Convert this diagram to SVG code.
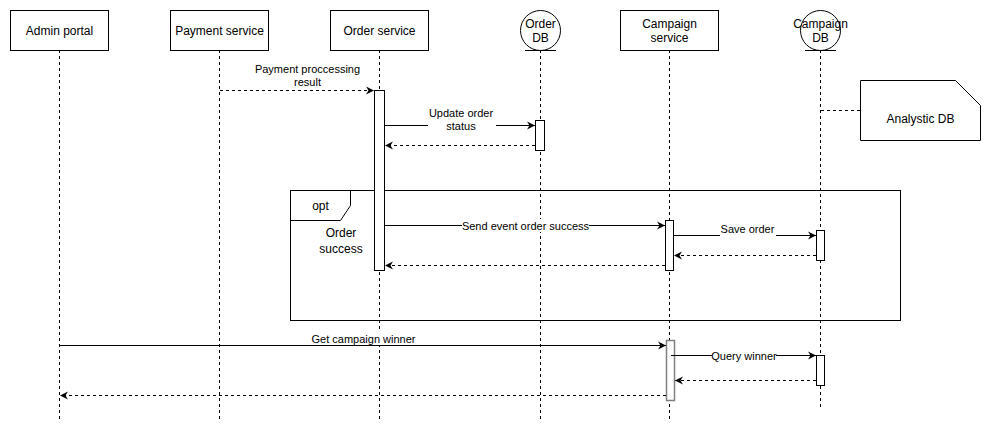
<svg xmlns="http://www.w3.org/2000/svg" width="991" height="431" viewBox="0 0 991 431">
<style>
text{font-family:"Liberation Sans",Arial,sans-serif;fill:#000;text-anchor:middle;dominant-baseline:central}
.h{font-size:12px}
.l{font-size:11px}
.box{fill:#fff;stroke:#000;stroke-width:1}
.life{stroke:#000;stroke-width:1;stroke-dasharray:3 3;fill:none}
.act{fill:#fff;stroke:#000;stroke-width:1}
.msg{stroke:#000;stroke-width:1;fill:none;marker-end:url(#arr)}
.ret{stroke:#000;stroke-width:1;fill:none;stroke-dasharray:3 3;marker-end:url(#arr)}
.bg{fill:#fff;stroke:none}
</style>
<defs>
<marker id="arr" markerUnits="userSpaceOnUse" markerWidth="9" markerHeight="9" refX="8" refY="4" orient="auto" overflow="visible">
<path d="M0,0 L8,4 L0,8 L2.5,4 Z" fill="#000" stroke="none"/>
</marker>
</defs>
<rect width="991" height="431" fill="#fff"/>

<g id="frame-opt">
<rect x="290.5" y="190.5" width="610" height="130" fill="none" stroke="#000"/>
<path d="M290.5,220.5 H340.5 L350.5,205.5 V190.5" fill="none" stroke="#000"/>
<text class="h" x="320.5" y="206">opt</text>
<text class="h" x="341" y="233">Order</text>
<text class="h" x="341" y="249">success</text>
</g>

<g id="admin-portal">
<line class="life" x1="59.5" y1="50" x2="59.5" y2="420"/>
<rect class="box" x="10.5" y="10.5" width="98" height="40"/>
<text class="h" x="59.5" y="31">Admin portal</text>
</g>

<g id="payment-service">
<line class="life" x1="219.5" y1="50" x2="219.5" y2="420"/>
<rect class="box" x="170.5" y="10.5" width="98" height="40"/>
<text class="h" x="219.5" y="31">Payment service</text>
</g>

<g id="order-service">
<line class="life" x1="379.5" y1="50" x2="379.5" y2="420"/>
<rect class="box" x="330.5" y="10.5" width="98" height="40"/>
<text class="h" x="379.5" y="31">Order service</text>
<rect class="act" x="374.5" y="90.5" width="10" height="180"/>
</g>

<g id="order-db">
<line class="life" x1="540.5" y1="50" x2="540.5" y2="420"/>
<circle cx="540.5" cy="30.5" r="20" fill="#fff" stroke="#000"/>
<line x1="525" y1="50.5" x2="556" y2="50.5" stroke="#000"/>
<text class="h" x="540.5" y="24">Order</text>
<text class="h" x="540.5" y="38">DB</text>
<rect class="act" x="535.5" y="120.5" width="9" height="30"/>
</g>

<g id="campaign-service">
<line class="life" x1="669.5" y1="50" x2="669.5" y2="420"/>
<rect class="box" x="620.5" y="10.5" width="98" height="40"/>
<text class="h" x="669.5" y="24">Campaign</text>
<text class="h" x="669.5" y="38">service</text>
<rect class="act" x="665.5" y="220.5" width="8" height="50"/>
<rect x="666.5" y="340.5" width="8" height="60" fill="#fff" stroke="#808080" stroke-width="1.5"/>
</g>

<g id="campaign-db">
<line class="life" x1="820.5" y1="50" x2="820.5" y2="408"/>
<circle cx="820.5" cy="30.5" r="20" fill="#fff" stroke="#000"/>
<line x1="805" y1="50.5" x2="836" y2="50.5" stroke="#000"/>
<text class="h" x="820.5" y="24">Campaign</text>
<text class="h" x="820.5" y="38">DB</text>
<rect class="act" x="816.5" y="230.5" width="8" height="30"/>
<rect class="act" x="816.5" y="355.5" width="8" height="30"/>
</g>

<g id="analystic-db">
<path d="M860.5,80.5 H955.5 L980.5,105.5 V140.5 H860.5 Z" fill="#fff" stroke="#000"/>
<text class="h" x="920.5" y="119">Analystic DB</text>
</g>

<g id="connectors">
<line x1="821" y1="110.5" x2="860" y2="110.5" class="life"/>

<line class="ret" x1="220" y1="90.5" x2="374" y2="90.5"/>
<text class="l" x="307.5" y="69">Payment proccessing</text>
<text class="l" x="307.5" y="82">result</text>

<line class="msg" x1="385" y1="125.5" x2="535" y2="125.5"/>
<rect class="bg" x="428" y="107" width="68" height="26"/>
<text class="l" x="461" y="113">Update order</text>
<text class="l" x="461" y="126">status</text>

<line class="ret" x1="535" y1="145.5" x2="385" y2="145.5"/>

<line class="msg" x1="385" y1="225.5" x2="665" y2="225.5"/>
<rect class="bg" x="462" y="219" width="127" height="13"/>
<text class="l" x="525.5" y="226">Send event order success</text>

<line class="msg" x1="674" y1="235.5" x2="816" y2="235.5"/>
<rect class="bg" x="720" y="222" width="56" height="14"/>
<text class="l" x="747.5" y="229">Save order</text>

<line class="ret" x1="816" y1="255.5" x2="674" y2="255.5"/>
<line class="ret" x1="665" y1="265.5" x2="385" y2="265.5"/>

<line class="msg" x1="60" y1="345.5" x2="666" y2="345.5"/>
<rect class="bg" x="312" y="332" width="104" height="13"/>
<text class="l" x="363.5" y="339">Get campaign winner</text>

<line class="msg" x1="671" y1="355.5" x2="816" y2="355.5"/>
<rect class="bg" x="712" y="349" width="64" height="14"/>
<text class="l" x="744" y="356">Query winner</text>

<line class="ret" x1="816" y1="380.5" x2="675" y2="380.5"/>
<line class="ret" x1="666" y1="395.5" x2="60" y2="395.5"/>
</g>
</svg>
